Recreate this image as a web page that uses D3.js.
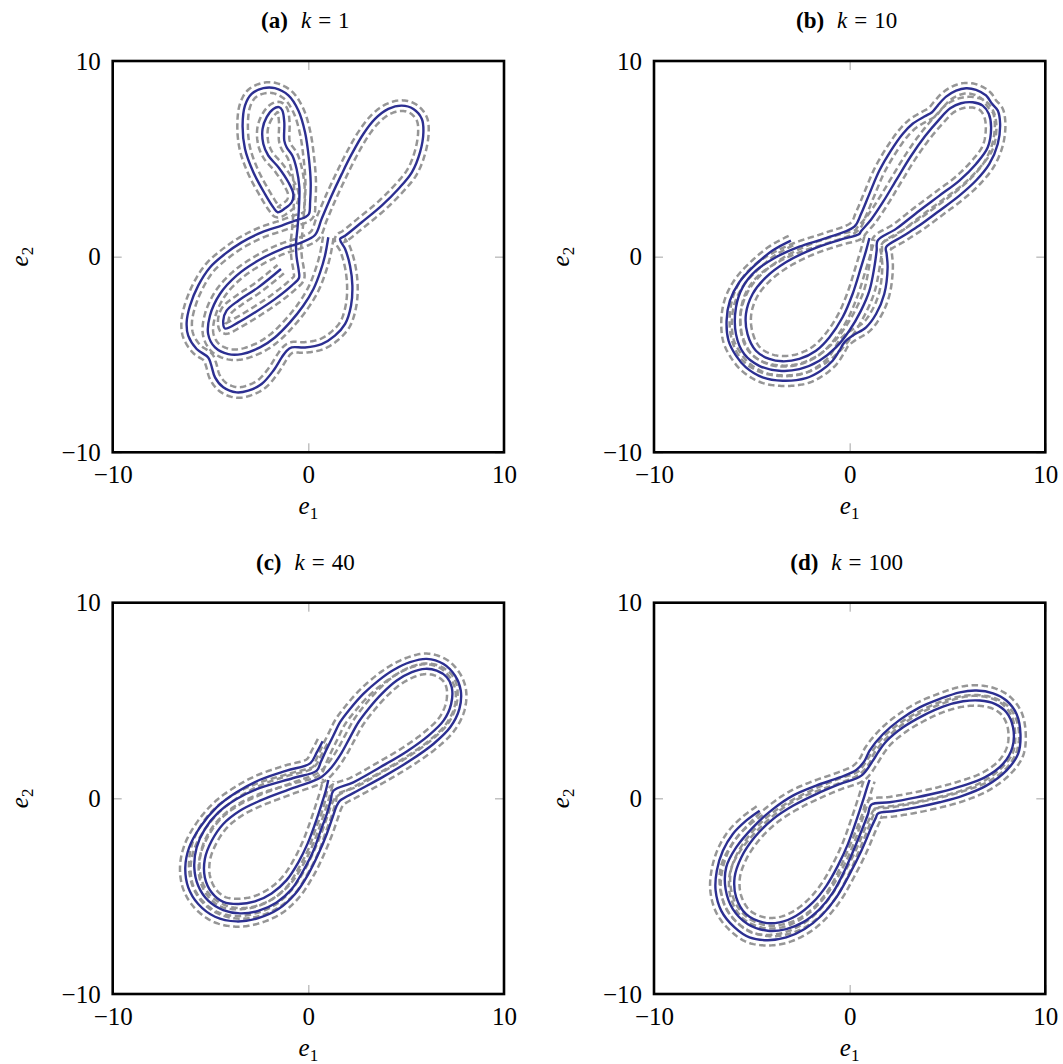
<!DOCTYPE html>
<html>
<head>
<meta charset="utf-8">
<script src="https://cdn.jsdelivr.net/npm/d3@7"></script>
<style>
  body { margin: 0; background: #fff; }
  text { font-family: "Liberation Serif", "Times New Roman", serif; fill: #000; }
</style>
</head>
<body>
<svg id="fig" width="1063" height="1064"></svg>
<script>
// Error trajectories (e1, e2) for each gain k
const trajK1 = [
  [1.02,0.99],[0.85,0.05],[0.60,-0.80],[0.26,-1.65],[-0.26,-2.51],[-0.94,-3.36],[-1.71,-4.13],[-2.47,-4.64],
  [-3.41,-4.98],[-4.09,-4.98],[-4.77,-4.64],[-5.12,-3.96],[-5.03,-3.02],[-4.52,-1.91],[-3.67,-0.97],[-2.56,-0.20],
  [-1.36,0.39],[-0.34,0.73],[0.34,1.11],
  [0.68,1.93],[1.19,3.12],[1.71,4.23],[2.22,5.25],[2.81,6.27],[3.41,7.04],[4.09,7.55],[4.77,7.72],[5.37,7.55],
  [5.80,7.04],[5.88,6.36],[5.71,5.34],[5.29,4.31],[4.60,3.46],[3.75,2.61],[2.73,1.76],[1.88,1.07],[1.62,0.90],
  [1.88,0.39],[2.13,-0.46],[2.25,-1.48],[2.18,-2.51],[1.88,-3.44],[1.36,-4.04],[0.68,-4.47],[-0.17,-4.64],
  [-0.85,-4.64],[-1.11,-4.81],[-1.36,-5.15],[-1.79,-5.83],[-2.39,-6.51],[-3.07,-6.85],[-3.67,-6.94],[-4.35,-6.68],
  [-4.77,-6.17],[-4.98,-5.49],[-5.12,-5.15],[-5.71,-4.72],[-6.14,-4.04],[-6.22,-3.36],[-6.05,-2.51],[-5.63,-1.48],
  [-5.03,-0.55],[-4.26,0.14],[-3.41,0.73],[-2.39,1.24],[-1.36,1.59],[-0.68,1.84],[-0.17,2.01],[0.03,2.18],
  [0.09,2.78],[0.12,3.80],[0.03,5.00],[-0.17,6.36],[-0.51,7.47],[-1.02,8.24],[-1.71,8.61],[-2.30,8.61],
  [-2.90,8.32],[-3.24,7.72],[-3.36,6.70],[-3.24,5.51],[-2.81,4.31],[-2.22,3.21],[-1.79,2.52],[-1.57,2.27],
  [-1.19,2.47],[-0.85,2.78],[-0.77,3.21],
  [-1.02,3.80],[-1.53,4.57],[-2.05,5.17],[-2.30,5.76],[-2.34,6.53],[-2.13,7.13],[-1.79,7.55],[-1.50,7.64],
  [-1.33,7.47],[-1.23,6.87],[-1.23,5.93],[-1.11,5.59],[-0.82,5.17],[-0.60,4.48],[-0.46,3.55],[-0.48,2.52],
  [-0.55,1.50],[-0.63,0.65],[-0.60,-0.03],[-0.49,-0.72],[-0.48,-1.09],
  [-0.85,-1.48],[-1.71,-2.17],[-2.73,-2.85],[-3.58,-3.36],[-4.26,-3.67],[-4.35,-3.27],[-4.18,-2.76],
  [-3.58,-2.25],[-2.56,-1.57],[-1.40,-0.63]
];

const trajK10 = [
  [-3.00,0.82],[-3.94,0.31],[-4.96,-0.55],[-5.64,-1.31],[-6.12,-2.25],[-6.29,-3.27],[-6.19,-4.30],[-5.81,-5.06],
  [-5.30,-5.66],[-4.45,-6.17],[-3.43,-6.34],[-2.23,-6.21],[-1.47,-5.83],[-0.87,-5.32],[-0.53,-4.81],[-0.27,-4.38],
  [0.15,-4.04],[0.84,-3.61],[1.35,-2.93],[1.77,-1.91],[1.94,-0.55],[1.89,0.14],[1.86,0.48],
  [2.71,1.04],[3.56,1.59],[4.59,2.35],[5.61,3.12],[6.46,3.89],[7.14,4.74],[7.57,5.76],[7.69,6.79],[7.57,7.47],
  [7.28,7.81],[6.97,8.24],[6.46,8.53],[5.95,8.61],[5.44,8.49],[4.93,8.18],[4.50,7.72],[4.21,7.38],[3.82,7.16],
  [3.22,6.79],[2.71,6.27],[2.11,5.42],[1.52,4.40],[1.01,3.21],[0.58,2.18],[0.24,1.53],
  [-1.21,0.95],[-2.57,0.51],[-3.77,-0.03],[-4.79,-0.72],[-5.47,-1.57],[-5.81,-2.59],[-5.81,-3.96],[-5.39,-4.98],
  [-4.62,-5.58],[-3.60,-5.83],[-2.57,-5.75],[-1.55,-5.32],[-0.70,-4.64],[-0.02,-3.79],[0.58,-2.76],[1.01,-1.74],
  [1.26,-0.55],[1.38,0.31],[1.43,0.82],
  [2.37,1.42],[3.56,2.35],[4.59,3.12],[5.61,3.89],[6.46,4.74],[7.06,5.59],[7.23,6.62],[7.11,7.30],[6.80,7.72],
  [6.29,7.89],[5.69,7.84],[5.14,7.58],[4.55,6.98],[3.85,6.15],[3.12,5.12],[2.42,3.98],[1.72,2.82],[1.10,1.90],
  [0.58,1.30],[0.49,1.16],
  [-0.53,0.85],[-1.89,0.39],[-3.26,-0.29],[-4.28,-1.06],[-4.96,-1.91],[-5.30,-2.93],[-5.22,-3.96],[-4.79,-4.81],
  [-4.11,-5.23],[-3.43,-5.35],[-2.57,-5.23],[-1.72,-4.81],[-1.04,-4.13],[-0.36,-3.10],[0.15,-1.91],[0.58,-0.55],
  [0.84,0.31],[1.01,0.95]
];

const trajK40 = [
  [0.73,2.92],[0.43,2.35],[0.09,1.79],
  [-1.11,1.42],[-2.47,0.95],[-3.67,0.31],[-4.69,-0.46],[-5.54,-1.48],[-6.09,-2.51],[-6.29,-3.53],[-6.14,-4.55],
  [-5.63,-5.40],[-4.77,-6.05],[-3.67,-6.29],[-2.56,-6.12],[-1.53,-5.66],[-0.68,-4.89],[0.00,-3.87],[0.51,-2.85],
  [0.94,-1.82],[1.24,-0.97],[1.45,-0.38],[1.62,-0.12],
  [2.47,0.36],[3.84,1.11],[5.20,1.93],[6.39,2.78],[7.25,3.63],[7.72,4.57],[7.79,5.51],[7.50,6.27],[6.91,6.87],
  [6.05,7.13],[5.20,6.96],[4.35,6.56],[3.58,6.02],[2.81,5.34],[2.13,4.57],[1.62,3.89],[1.28,3.21],[0.94,2.52],
  [0.63,1.84],[0.43,1.42],
  [-0.77,1.04],[-2.47,0.53],[-3.67,-0.03],[-4.60,-0.72],[-5.29,-1.57],[-5.71,-2.51],[-5.83,-3.53],[-5.63,-4.47],
  [-5.12,-5.23],[-4.35,-5.71],[-3.50,-5.88],[-2.56,-5.75],[-1.62,-5.32],[-0.85,-4.64],[-0.26,-3.70],[0.26,-2.68],
  [0.63,-1.65],[0.94,-0.80],[1.14,-0.12],[1.28,0.39],
  [2.30,0.82],[3.67,1.59],[5.03,2.40],[6.14,3.21],[6.91,3.97],[7.30,4.83],[7.33,5.68],[7.08,6.19],[6.56,6.53],
  [5.97,6.62],[5.29,6.45],[4.52,6.02],[3.75,5.34],[3.07,4.57],[2.56,3.89],[2.13,3.12],[1.71,2.35],[1.19,1.59],
  [0.63,1.07],
  [-0.77,0.53],[-2.47,-0.12],[-3.50,-0.63],[-4.35,-1.31],[-4.94,-2.17],[-5.29,-3.10],[-5.29,-4.04],[-4.94,-4.81],
  [-4.35,-5.29],[-3.58,-5.40],[-2.73,-5.27],[-1.88,-4.86],[-1.11,-4.18],[-0.51,-3.27],[-0.05,-2.34],[0.34,-1.31],
  [0.68,-0.29],[0.89,0.39],[1.02,0.94]
];

const trajK100 = [
  [-4.60,-0.63],[-5.29,-1.14],[-5.97,-1.82],[-6.48,-2.68],[-6.79,-3.70],[-6.85,-4.72],[-6.56,-5.75],[-5.88,-6.60],
  [-5.12,-7.11],[-4.18,-7.25],[-3.24,-7.11],[-2.30,-6.68],[-1.45,-6.00],[-0.68,-5.06],[0.00,-3.87],[0.60,-2.68],
  [1.11,-1.48],[1.33,-1.01],[1.45,-0.77],
  [2.22,-0.66],[3.41,-0.46],[4.60,-0.20],[5.80,0.14],[6.99,0.65],[8.01,1.42],[8.61,2.27],[8.73,3.29],[8.53,4.31],
  [8.01,5.00],[7.33,5.37],[6.48,5.51],[5.63,5.42],[4.60,5.08],[3.58,4.65],[2.56,4.01],[1.71,3.29],[1.02,2.44],
  [0.77,1.93],[0.34,1.45],
  [-0.51,1.07],[-1.71,0.65],[-2.90,0.14],[-3.92,-0.55],[-4.94,-1.48],[-5.80,-2.51],[-6.31,-3.53],[-6.34,-4.64],
  [-5.97,-5.66],[-5.20,-6.43],[-4.18,-6.77],[-3.24,-6.68],[-2.39,-6.34],[-1.53,-5.66],[-0.85,-4.81],[-0.26,-3.70],
  [0.26,-2.51],[0.68,-1.48],[0.94,-0.80],[1.11,-0.32],
  [2.05,-0.20],[3.41,0.05],[4.60,0.31],[5.80,0.65],[6.91,1.07],[7.84,1.76],[8.32,2.61],[8.35,3.63],[8.01,4.40],
  [7.42,4.83],[6.65,5.00],[5.80,4.96],[4.77,4.69],[3.75,4.23],[2.73,3.63],[1.88,2.92],[1.45,2.35],[1.19,1.93],
  [0.60,1.16],
  [-0.51,0.73],[-1.71,0.22],[-2.90,-0.38],[-3.92,-1.06],[-4.86,-1.99],[-5.54,-3.02],[-5.88,-4.04],[-5.80,-5.06],
  [-5.29,-5.92],[-4.43,-6.34],[-3.58,-6.34],[-2.73,-6.00],[-1.88,-5.32],[-1.19,-4.47],[-0.60,-3.44],[-0.09,-2.34],
  [0.34,-1.14],[0.68,-0.12],[0.89,0.56],[1.02,0.94]
];

const panelTags = ["(a)", "(b)", "(c)", "(d)"];
const gains = ["1", "10", "40", "100"];
const trajectories = [trajK1, trajK10, trajK40, trajK100];
const tickValues = [-10, 0, 10];
const tickLabels = ["\u221210", "0", "10"];
const tubeRadius = 0.27;   // half-width of the tolerance tube, in e-units

// layout
const colX = [112.7, 654.0];
const rowY = [61.0, 602.7];
const side = 391.3;
const blue = "#2c2f91";
const grey = "#969696";

const svg = d3.select("#fig");
const line = d3.line().curve(d3.curveCatmullRom.alpha(0.5));

// Offset a rendered path sideways by +/- r pixels (tube boundaries)
function tubeEdges(node, r) {
  const L = node.getTotalLength();
  const n = Math.ceil(L / 1.2);
  const pts = d3.range(n + 1).map(i => node.getPointAtLength(Math.min(L, i * L / n)));
  const left = [], right = [];
  for (let i = 0; i <= n; i++) {
    const a = pts[Math.max(0, i - 2)], b = pts[Math.min(n, i + 2)];
    let tx = b.x - a.x, ty = b.y - a.y;
    const m = Math.hypot(tx, ty) || 1; tx /= m; ty /= m;
    left.push([pts[i].x - ty * r, pts[i].y + tx * r]);
    right.push([pts[i].x + ty * r, pts[i].y - tx * r]);
  }
  return [left, right];
}

trajectories.forEach((traj, i) => {
  const x0 = colX[i % 2], y0 = rowY[Math.floor(i / 2)];
  const x = d3.scaleLinear().domain([-10, 10]).range([x0, x0 + side]);
  const y = d3.scaleLinear().domain([-10, 10]).range([y0 + side, y0]);
  const g = svg.append("g");

  // inner grey ticks on all four sides
  const tickLen = 9;
  const fmtNone = () => "";
  const styleTicks = sel => {
    sel.select(".domain").remove();
    sel.selectAll(".tick line").attr("stroke", "#8c8c8c").attr("stroke-width", 0.8);
  };
  g.append("g").attr("transform", `translate(0,${y0 + side})`)
    .call(d3.axisTop(x).tickValues(tickValues).tickSize(tickLen).tickFormat(fmtNone)).call(styleTicks);
  g.append("g").attr("transform", `translate(0,${y0})`)
    .call(d3.axisBottom(x).tickValues(tickValues).tickSize(tickLen).tickFormat(fmtNone)).call(styleTicks);
  g.append("g").attr("transform", `translate(${x0},0)`)
    .call(d3.axisRight(y).tickValues(tickValues).tickSize(tickLen).tickFormat(fmtNone)).call(styleTicks);
  g.append("g").attr("transform", `translate(${x0 + side},0)`)
    .call(d3.axisLeft(y).tickValues(tickValues).tickSize(tickLen).tickFormat(fmtNone)).call(styleTicks);

  // tick labels
  const fmt = v => tickLabels[tickValues.indexOf(v)];
  const xl = g.append("g").attr("transform", `translate(0,${y0 + side})`)
    .call(d3.axisBottom(x).tickValues(tickValues).tickSize(0).tickPadding(13).tickFormat(fmt));
  const yl = g.append("g").attr("transform", `translate(${x0},0)`)
    .call(d3.axisLeft(y).tickValues(tickValues).tickSize(0).tickPadding(12).tickFormat(fmt));
  [xl, yl].forEach(a => {
    a.select(".domain").remove();
    a.selectAll("text").attr("font-size", 25)
      .attr("font-family", "'Liberation Serif', 'Times New Roman', serif").attr("fill", "#000");
  });

  // curve: solid trajectory with dashed tube edges
  const d = line(traj.map(p => [x(p[0]), y(p[1])]));
  const solid = g.append("path").attr("d", d).attr("fill", "none")
    .attr("stroke", blue).attr("stroke-width", 2.4).attr("stroke-linejoin", "round");
  const rPx = tubeRadius * side / 20;
  const edges = tubeEdges(solid.node(), rPx);
  const flat = d3.line();
  edges.forEach(e => {
    g.insert("path", () => solid.node()).attr("d", flat(e)).attr("fill", "none")
      .attr("stroke", grey).attr("stroke-width", 2.5).attr("stroke-dasharray", "6.5,3.5");
  });

  // frame
  g.append("rect").attr("x", x0).attr("y", y0).attr("width", side).attr("height", side)
    .attr("fill", "none").attr("stroke", "#000").attr("stroke-width", 2.6);

  // title
  const cx = x0 + side / 2 - 3;
  const t = g.append("text").attr("x", cx).attr("y", y0 - 33).attr("text-anchor", "middle").attr("font-size", 23);
  t.append("tspan").attr("font-weight", "bold").text(panelTags[i]);
  t.append("tspan").attr("dx", 13).attr("font-style", "italic").text("k");
  t.append("tspan").attr("dx", 7).text("=");
  t.append("tspan").attr("dx", 7).text(gains[i]);

  // axis labels
  const xt = g.append("text").attr("x", x0 + side / 2).attr("y", y0 + side + 62)
    .attr("text-anchor", "middle").attr("font-size", 25);
  xt.append("tspan").attr("font-style", "italic").text("e");
  xt.append("tspan").attr("font-size", 17).attr("dy", 5).text("1");

  const yt = g.append("text")
    .attr("transform", `translate(${x0 - 85},${y0 + side / 2}) rotate(-90)`)
    .attr("text-anchor", "middle").attr("font-size", 25);
  yt.append("tspan").attr("font-style", "italic").text("e");
  yt.append("tspan").attr("font-size", 17).attr("dy", 5).text("2");
});
</script>
</body>
</html>
